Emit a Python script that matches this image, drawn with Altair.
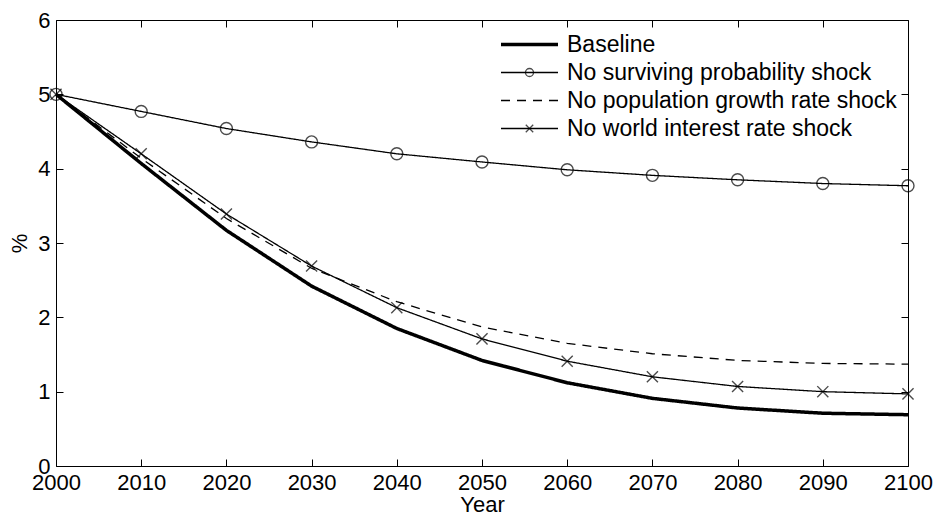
import pandas as pd
import altair as alt

# values
years = [2000, 2010, 2020, 2030, 2040, 2050, 2060, 2070, 2080, 2090, 2100]
baseline = [5.0, 4.07, 3.17, 2.42, 1.85, 1.42, 1.12, 0.91, 0.78, 0.71, 0.69]
no_surv = [5.0, 4.77, 4.54, 4.36, 4.20, 4.09, 3.985, 3.91, 3.85, 3.80, 3.77]
no_pop = [5.0, 4.14, 3.33, 2.66, 2.21, 1.87, 1.65, 1.51, 1.42, 1.38, 1.37]
no_world = [5.0, 4.20, 3.39, 2.69, 2.13, 1.71, 1.41, 1.20, 1.07, 1.00, 0.97]

names = ["Baseline", "No surviving probability shock",
         "No population growth rate shock", "No world interest rate shock"]
y_ticks = [0, 1, 2, 3, 4, 5, 6]

rows = []
for name, vals in zip(names, [baseline, no_surv, no_pop, no_world]):
    for yr, v in zip(years, vals):
        rows.append({"Year": yr, "value": v, "series": name, "mk": name})
df = pd.DataFrame(rows)

FONT = "Liberation Sans"
W, H = 852, 446

# marker paths (empty path = no marker)
circle = "M-0.67,0A0.67,0.67 0 1 1 0.67,0A0.67,0.67 0 1 1 -0.67,0Z"
xmark = "M-0.62,-0.62L0.62,0.62M-0.62,0.62L0.62,-0.62"
nomark = "M0,0"

common_legend = dict(
    title=None, orient="none", legendX=462, legendY=13,
    labelFont=FONT, labelFontSize=23, labelColor="black", labelLimit=0,
    symbolSize=144, symbolStrokeColor="black", symbolFillColor="transparent",
    symbolOffset=0, labelOffset=26, rowPadding=4,
)
line_legend = alt.Legend(symbolType="M-4.75,0H4.75", **common_legend)
mark_legend = alt.Legend(labelOpacity=0, symbolStrokeWidth=1.3, **common_legend)

inner = dict(tickSize=7, offset=-7, domain=False, tickColor="black", tickWidth=1,
             grid=False)

x_scale = alt.Scale(domain=[2000, 2100], nice=False)
y_scale = alt.Scale(domain=[0, 6], nice=False)

lines = alt.Chart(df).mark_line(color="black").encode(
    x=alt.X("Year:Q", scale=x_scale,
            axis=alt.Axis(orient="bottom", values=years, format="d", title="Year",
                          labelFlush=False, labelPadding=6, titlePadding=1, **inner)),
    y=alt.Y("value:Q", scale=y_scale,
            axis=alt.Axis(orient="left", values=y_ticks, title="%",
                          labelPadding=6, titlePadding=6, **inner)),
    strokeDash=alt.StrokeDash("series:N",
                              scale=alt.Scale(domain=names,
                                              range=[[1, 0], [1, 0], [9, 7], [1, 0]]),
                              legend=line_legend),
    strokeWidth=alt.StrokeWidth("series:N",
                                scale=alt.Scale(type="ordinal", domain=names,
                                                range=[3.5, 1.3, 1.3, 1.3]),
                                legend=line_legend),
)

points = alt.Chart(df).mark_point(
    color="black", filled=False, size=320, strokeWidth=1.4
).encode(
    x=alt.X("Year:Q", scale=x_scale,
            axis=alt.Axis(orient="top", values=years, labels=False, title=None, **inner)),
    y=alt.Y("value:Q", scale=y_scale,
            axis=alt.Axis(orient="right", values=y_ticks, labels=False, title=None, **inner)),
    shape=alt.Shape("mk:N", sort=names,
                    scale=alt.Scale(range=[nomark, circle, nomark, xmark]),
                    legend=mark_legend),
)

chart = alt.layer(lines, points).resolve_scale(
    x="shared", y="shared"
).resolve_axis(
    x="independent", y="independent"
).properties(
    width=W, height=H, background="white",
    autosize=alt.AutoSizeParams(type="none"),
    padding={"left": 48, "top": 12, "right": 26, "bottom": 49},
).configure_view(
    stroke="black", strokeWidth=1
).configure_axis(
    labelFont=FONT, labelFontSize=22, labelColor="black",
    titleFont=FONT, titleFontSize=22, titleColor="black", titleFontWeight="normal",
    grid=False,
)

chart.save("out.html", embed_options={"renderer": "svg", "actions": False})
